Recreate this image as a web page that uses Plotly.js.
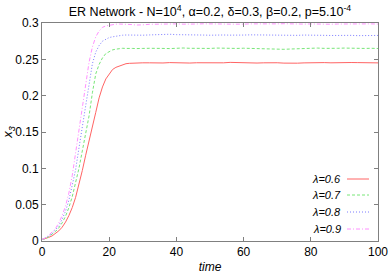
<!DOCTYPE html>
<html>
<head>
<meta charset="utf-8">
<script src="https://cdn.plot.ly/plotly-3.0.1.min.js"></script>
<style>
html,body{margin:0;padding:0;background:#fff;}
#chart{width:392px;height:274px;}
</style>
</head>
<body>
<div id="chart"></div>
<script>
var time = [0,1,2,3,4,5,6,7,8,9,10,11,12,13,14,15,16,17,18,19,20,21,22,23,24,25,26,27,28,29,30,
  32,34,36,38,40,42,44,46,48,50,52,54,56,58,60,62,64,66,68,70,72,74,76,78,80,82,84,86,88,90,92,94,96,98,100];

var lambda06 = [0.002,0.003,0.005,0.007,0.010,0.014,0.019,0.026,0.035,0.046,0.060,0.077,0.097,0.118,0.139,0.158,0.177,0.197,0.212,0.223,0.230,0.236,0.239,0.241,0.243,0.2440,0.2445,0.2448,0.2450,0.2447,0.2452,
  0.2452,0.2448,0.2450,0.2455,0.2450,0.2446,0.2449,0.2453,0.2451,0.2447,0.2450,0.2452,0.2458,0.2455,0.2450,0.2446,0.2449,0.2452,0.2456,0.2453,0.2448,0.2445,0.2447,0.2451,0.2455,0.2458,0.2455,0.2452,0.2450,0.2453,0.2456,0.2455,0.2452,0.2449,0.2451];

var lambda07 = [0.002,0.003,0.006,0.009,0.013,0.018,0.025,0.034,0.046,0.061,0.079,0.100,0.124,0.148,0.172,0.204,0.230,0.243,0.252,0.258,0.261,0.263,0.264,0.2648,0.2652,0.2650,0.2655,0.2650,0.2648,0.2652,0.2650,
  0.2652,0.2655,0.2650,0.2648,0.2653,0.2656,0.2652,0.2648,0.2645,0.2650,0.2655,0.2652,0.2648,0.2650,0.2653,0.2650,0.2646,0.2644,0.2642,0.2640,0.2638,0.2642,0.2647,0.2650,0.2652,0.2655,0.2651,0.2648,0.2652,0.2655,0.2650,0.2647,0.2650,0.2652,0.2649];

var lambda08 = [0.002,0.004,0.007,0.010,0.015,0.021,0.030,0.041,0.056,0.075,0.098,0.128,0.158,0.188,0.218,0.244,0.260,0.269,0.275,0.278,0.280,0.281,0.282,0.2828,0.2832,0.2835,0.2833,0.2836,0.2834,0.2835,0.2832,
  0.2836,0.2840,0.2848,0.2845,0.2840,0.2836,0.2835,0.2838,0.2834,0.2832,0.2836,0.2835,0.2833,0.2830,0.2834,0.2837,0.2835,0.2832,0.2829,0.2832,0.2835,0.2833,0.2830,0.2834,0.2836,0.2833,0.2830,0.2828,0.2831,0.2834,0.2830,0.2826,0.2824,0.2827,0.2829];

var lambda09 = [0.002,0.004,0.008,0.012,0.017,0.025,0.035,0.048,0.066,0.090,0.122,0.156,0.188,0.220,0.246,0.267,0.281,0.289,0.294,0.296,0.297,0.298,0.2984,0.2986,0.2985,0.2988,0.2984,0.2978,0.2972,0.2970,0.2975,
  0.2982,0.2985,0.2980,0.2986,0.2988,0.2984,0.2980,0.2986,0.2989,0.2985,0.2982,0.2986,0.2984,0.2980,0.2984,0.2988,0.2986,0.2983,0.2985,0.2988,0.2990,0.2986,0.2982,0.2985,0.2987,0.2984,0.2980,0.2983,0.2986,0.2988,0.2985,0.2982,0.2986,0.2988,0.2985];

var seriesNames = ['λ=0.6','λ=0.7','λ=0.8','λ=0.9'];
var seriesValues = [lambda06, lambda07, lambda08, lambda09];
var colors = ['#ff6464','#78e678','#7c7cff','#ff90ff'];
var dashes = ['solid','3px,2px','1px,2px','4px,2px,1px,2px'];

var xTicks = [0,20,40,60,80,100];
var yTicks = [0,0.05,0.1,0.15,0.2,0.25,0.3];
var yTickText = ['0','0.05','0.1','0.15','0.2','0.25','0.3'];

var traces = seriesValues.map(function(v,i){
  return {x: time, y: v, type:'scatter', mode:'lines', name: seriesNames[i],
    line:{color: colors[i], width:1, dash: dashes[i]}, showlegend:false, hoverinfo:'skip'};
});

// custom legend (text left of sample, gnuplot style)
var legendRows = [179, 195, 212, 229];
var H = 274, W = 392;
var shapes = [], annotations = [];
seriesNames.forEach(function(n,i){
  var yp = 1 - (legendRows[i]-23)/(241-23);
  annotations.push({xref:'paper', yref:'paper', x:(343-42)/(378-42), y: yp, xanchor:'right', yanchor:'middle',
    text:'<i>'+n+'</i>', showarrow:false, font:{family:'Liberation Sans, Arial, sans-serif', size:11, color:'#000'}});
  shapes.push({type:'line', xref:'paper', yref:'paper', x0:(347-42)/(378-42), x1:(369-42)/(378-42), y0:yp, y1:yp,
    line:{color:colors[i], width:1, dash:dashes[i]}});
});

var axisCommon = {
  showgrid:false, zeroline:false, showline:true, linecolor:'#808080', linewidth:1,
  mirror:'allticks', ticks:'inside', ticklen:4, tickcolor:'#808080', tickwidth:1,
  tickfont:{family:'Liberation Sans, Arial, sans-serif', size:12, color:'#000'}
};

var layout = {
  width: W, height: H,
  margin:{l:42, r:14, t:23, b:33, pad:0},
  paper_bgcolor:'#fff', plot_bgcolor:'#fff',
  title:{text:'ER Network - N=10<sup>4</sup>, α=0.2, δ=0.3, β=0.2, p=5.10<sup>-4</sup>',
    font:{family:'Liberation Sans, Arial, sans-serif', size:12.5, color:'#000'},
    x:0.5, xref:'paper', xanchor:'center', y:1-12/H, yref:'container', yanchor:'middle'},
  xaxis: Object.assign({}, axisCommon, {range:[0,100], tickvals:xTicks, ticktext:xTicks.map(String),
    title:{text:'<i>time</i>', font:{family:'Liberation Sans, Arial, sans-serif', size:12, color:'#000'}, standoff:4}}),
  yaxis: Object.assign({}, axisCommon, {range:[0,0.3], tickvals:yTicks, ticktext:yTickText,
    title:{text:'<i>x<sub>3</sub></i>', font:{family:'Liberation Sans, Arial, sans-serif', size:13, color:'#000'}, standoff:2}}),
  shapes: shapes,
  annotations: annotations
};

Plotly.newPlot('chart', traces, layout, {staticPlot:true, displayModeBar:false});
</script>
</body>
</html>
